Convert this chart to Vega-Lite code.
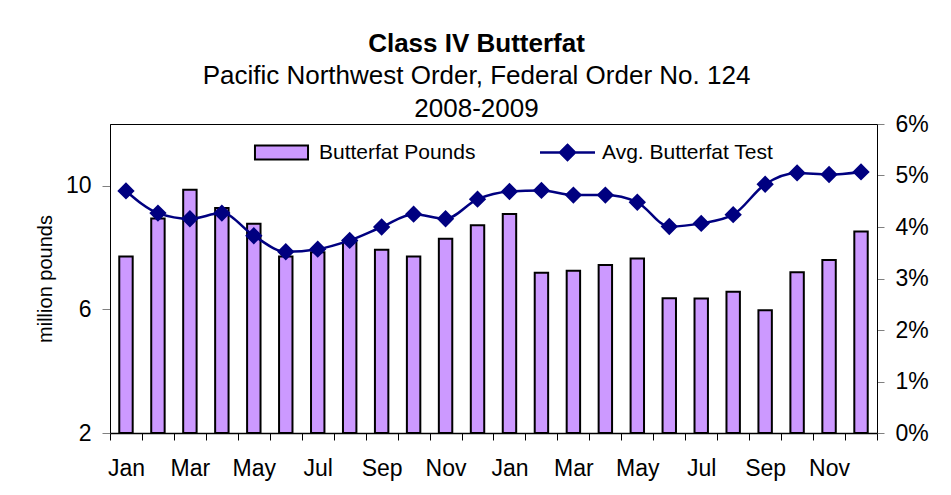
{
  "$schema": "https://vega.github.io/schema/vega-lite/v6.json",
  "autosize": {"type": "none"},
  "width": 767,
  "height": 309,
  "padding": {"left": 110, "top": 124, "right": 74, "bottom": 62},
  "background": "white",
  "title": {
    "text": "Class IV Butterfat",
    "subtitle": ["Pacific Northwest Order, Federal Order No. 124", "2008-2009"],
    "anchor": "middle",
    "frame": "group",
    "dx": -17,
    "offset": -9,
    "font": "Liberation Sans",
    "fontSize": 26,
    "fontWeight": "bold",
    "color": "black",
    "subtitleFont": "Liberation Sans",
    "subtitleFontSize": 26,
    "subtitleColor": "black",
    "subtitleLineHeight": 33,
    "subtitlePadding": 6
  },
  "data": {
    "values": [
      {"month": "Jan 2008", "pounds": 7.71, "test": 4.70},
      {"month": "Feb 2008", "pounds": 8.94, "test": 4.27},
      {"month": "Mar 2008", "pounds": 9.87, "test": 4.16},
      {"month": "Apr 2008", "pounds": 9.28, "test": 4.27},
      {"month": "May 2008", "pounds": 8.77, "test": 3.83},
      {"month": "Jun 2008", "pounds": 7.71, "test": 3.52},
      {"month": "Jul 2008", "pounds": 7.85, "test": 3.57},
      {"month": "Aug 2008", "pounds": 8.22, "test": 3.74},
      {"month": "Sep 2008", "pounds": 7.93, "test": 4.00},
      {"month": "Oct 2008", "pounds": 7.71, "test": 4.25},
      {"month": "Nov 2008", "pounds": 8.29, "test": 4.16},
      {"month": "Dec 2008", "pounds": 8.72, "test": 4.54},
      {"month": "Jan 2009", "pounds": 9.09, "test": 4.69},
      {"month": "Feb 2009", "pounds": 7.19, "test": 4.71},
      {"month": "Mar 2009", "pounds": 7.25, "test": 4.62},
      {"month": "Apr 2009", "pounds": 7.44, "test": 4.62},
      {"month": "May 2009", "pounds": 7.65, "test": 4.48},
      {"month": "Jun 2009", "pounds": 6.36, "test": 4.01},
      {"month": "Jul 2009", "pounds": 6.35, "test": 4.07},
      {"month": "Aug 2009", "pounds": 6.57, "test": 4.24},
      {"month": "Sep 2009", "pounds": 5.97, "test": 4.83},
      {"month": "Oct 2009", "pounds": 7.20, "test": 5.05},
      {"month": "Nov 2009", "pounds": 7.60, "test": 5.02},
      {"month": "Dec 2009", "pounds": 8.52, "test": 5.07}
    ]
  },
  "layer": [
    {
      "mark": {"type": "bar", "width": {"band": 0.42}, "stroke": "black", "strokeWidth": 2},
      "encoding": {
        "x": {
          "field": "month",
          "type": "nominal",
          "sort": null,
          "scale": {"paddingInner": 0, "paddingOuter": 0},
          "axis": {
            "title": null,
            "labelAngle": 0,
            "tickBand": "extent",
            "labelOverlap": false,
            "labelExpr": "indexof(['Jan','Mar','May','Jul','Sep','Nov'], slice(datum.label, 0, 3)) >= 0 ? slice(datum.label, 0, 3) : ''",
            "labelFont": "Liberation Sans",
            "labelFontSize": 23,
            "labelColor": "black",
            "tickColor": "black",
            "tickSize": 7,
            "labelPadding": 17,
            "domainColor": "black",
            "domainWidth": 1.5
          }
        },
        "y": {
          "field": "pounds",
          "type": "quantitative",
          "scale": {"domain": [2, 12], "nice": false, "zero": false},
          "axis": {
            "title": "million pounds",
            "titleFont": "Liberation Sans",
            "titleFontSize": 20,
            "titleFontWeight": "normal",
            "titleColor": "black",
            "titlePadding": 10,
            "values": [2, 6, 10],
            "labelFont": "Liberation Sans",
            "labelFontSize": 23,
            "labelColor": "black",
            "tickColor": "#808080",
            "tickSize": 8,
            "labelPadding": 11,
            "domainColor": "black",
            "grid": false
          }
        },
        "y2": {"datum": 2},
        "fill": {
          "datum": "Butterfat Pounds",
          "scale": {"range": ["#CC99FF"]},
          "legend": {
            "orient": "none",
            "legendX": 161,
            "legendY": 18,
            "title": null,
            "padding": 0,
            "symbolType": "M-3.79,-1H3.79V1H-3.79Z",
            "symbolSize": 196,
            "symbolStrokeColor": "black",
            "symbolStrokeWidth": 2,
            "labelFont": "Liberation Sans",
            "labelFontSize": 21,
            "labelColor": "black",
            "labelOffset": 27,
            "labelLimit": 300
          }
        }
      }
    },
    {
      "mark": {
        "type": "line",
        "interpolate": "monotone",
        "strokeWidth": 2.5,
        "point": {"filled": true, "shape": "diamond", "size": 210, "fill": "#000080"}
      },
      "encoding": {
        "x": {"field": "month", "type": "nominal", "sort": null},
        "y": {
          "field": "test",
          "type": "quantitative",
          "scale": {"domain": [0, 6], "nice": false},
          "axis": {
            "orient": "right",
            "title": null,
            "values": [0, 1, 2, 3, 4, 5, 6],
            "labelExpr": "datum.value + '%'",
            "labelFont": "Liberation Sans",
            "labelFontSize": 23,
            "labelColor": "black",
            "tickColor": "#808080",
            "tickSize": 7,
            "labelPadding": 11,
            "domainColor": "black",
            "grid": false
          }
        },
        "stroke": {
          "datum": "Avg. Butterfat Test",
          "scale": {"range": ["#000080"]},
          "legend": {
            "orient": "none",
            "legendX": 447,
            "legendY": 18,
            "title": null,
            "padding": 0,
            "symbolType": "M-3.67,0H3.67M0,-1L1,0L0,1L-1,0Z",
            "symbolSize": 225,
            "symbolStrokeColor": "#000080",
            "symbolFillColor": "#000080",
            "symbolStrokeWidth": 2.5,
            "labelFont": "Liberation Sans",
            "labelFontSize": 21,
            "labelColor": "black",
            "labelOffset": 24,
            "labelLimit": 300,
            "encode": {"symbols": {"update": {"fill": {"value": "#000080"}, "stroke": {"value": "#000080"}}}}
          }
        }
      }
    }
  ],
  "resolve": {"scale": {"y": "independent"}},
  "config": {
    "view": {"stroke": "black", "strokeWidth": 1},
    "font": "Liberation Sans",
    "axis": {"grid": false}
  }
}
